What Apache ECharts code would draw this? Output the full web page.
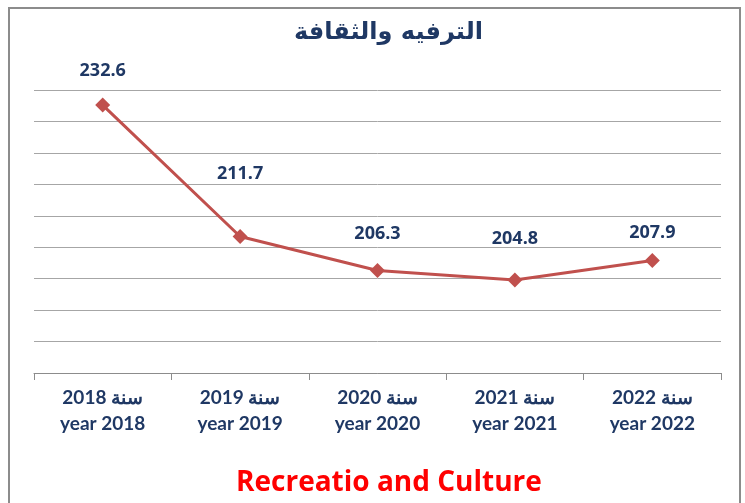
<!DOCTYPE html>
<html><head><meta charset="utf-8">
<script src="https://cdn.jsdelivr.net/npm/echarts@6/dist/echarts.min.js"></script>
<style>html,body{margin:0;padding:0;background:#fff}#c{width:745px;height:503px}</style>
</head><body><div id="c"></div>
<script>
const years = ['2018','2019','2020','2021','2022'];
const values = [232.6, 211.7, 206.3, 204.8, 207.9];
const titleAr = 'الترفيه والثقافة';
const titleEn = 'Recreatio and Culture';
const yMin = 190, yMax = 235, yStep = 5;

const labelOffsets = [-10, -38, -12, -17, -3];
const navy = '#1F3864';
const chart = echarts.init(document.getElementById('c'));
chart.setOption({
  backgroundColor: '#fff',
  animation: false,
  title: [
    {text: titleAr, left: 289, top: 16, textStyle: {fontFamily: 'DejaVu Sans', fontWeight: 'bold', fontSize: 24, color: navy}},
    {text: titleEn, left: 231, top: 464, textStyle: {fontFamily: 'Open Sans', fontWeight: 'bold', fontSize: 28, color: '#FF0000'}}
  ],
  graphic: [{type: 'rect', shape: {x: 9, y: 8, width: 731, height: 520}, style: {fill: 'none', stroke: '#8c8c8c', lineWidth: 2}, silent: true}],
  grid: {left: 34, right: 24, top: 90, bottom: 130},
  xAxis: {
    type: 'category', data: years, boundaryGap: true,
    axisLine: {lineStyle: {color: '#8c8c8c', width: 1}},
    axisTick: {show: true, length: 7, lineStyle: {color: '#8c8c8c'}},
    axisLabel: {
      margin: 12, lineHeight: 26,
      formatter: y => '\u202Bسنة ' + y + '\u202C\nyear ' + y,
      fontFamily: 'Lato', fontWeight: 'bold', fontSize: 19, color: navy
    }
  },
  yAxis: {
    type: 'value', min: yMin, max: yMax, interval: yStep,
    axisLabel: {show: false}, axisLine: {show: false}, axisTick: {show: false},
    splitLine: {lineStyle: {color: '#a6a6a6', width: 1}}
  },
  series: [{
    type: 'line',
    data: values.map((v, i) => ({value: v, label: {offset: [0, labelOffsets[i]]}})),
    symbol: 'diamond', symbolSize: 15,
    lineStyle: {color: '#C0504D', width: 3},
    itemStyle: {color: '#C0504D'},
    label: {show: true, position: 'top', distance: 8, fontFamily: 'Open Sans', fontWeight: 'bold', fontSize: 18, color: navy}
  }]
});
</script></body></html>
